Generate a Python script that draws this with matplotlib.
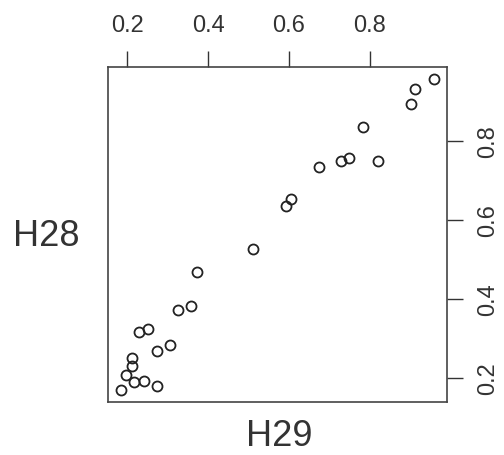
import matplotlib
matplotlib.use("Agg")
import matplotlib.pyplot as plt

plt.rcParams['font.family'] = ['Liberation Sans', 'DejaVu Sans']

# H29 vs H28 values for each observation
h29 = [0.960, 0.911, 0.901, 0.784, 0.749, 0.729, 0.820, 0.673, 0.606, 0.592,
       0.511, 0.373, 0.358, 0.325, 0.250, 0.229, 0.305, 0.273, 0.211, 0.211,
       0.196, 0.216, 0.241, 0.274, 0.183]
h28 = [0.957, 0.932, 0.895, 0.836, 0.759, 0.749, 0.749, 0.735, 0.653, 0.637,
       0.527, 0.469, 0.382, 0.372, 0.324, 0.318, 0.285, 0.270, 0.252, 0.232,
       0.208, 0.189, 0.194, 0.179, 0.171]

xticks = [0.2, 0.4, 0.6, 0.8]
yticks = [0.2, 0.4, 0.6, 0.8]

fig = plt.figure(figsize=(5.04, 4.55), dpi=100)
ax = fig.add_axes([108 / 504, 1 - 402 / 455, 339 / 504, 335 / 455])

ax.plot(h29, h28, linestyle='none', marker='o', markersize=7.2,
        markerfacecolor='none', markeredgecolor='#222222', markeredgewidth=1.3)

# pairs-style 4% padding around the data range
def padded(v):
    lo, hi = min(v), max(v)
    d = (hi - lo) * 0.04
    return lo - d, hi + d

ax.set_xlim(*padded(h29))
ax.set_ylim(*padded(h28))

ax.xaxis.tick_top()
ax.yaxis.tick_right()
ax.set_xticks(xticks)
ax.set_yticks(yticks)
ax.set_xticklabels(['%.1f' % t for t in xticks])
ax.set_yticklabels(['%.1f' % t for t in yticks], rotation=90, va='center')
ax.tick_params(direction='out', length=11.5, width=1.0, color='#333333',
               labelsize=17, labelcolor='#333333', pad=10)

for s in ax.spines.values():
    s.set_color('#444444')
    s.set_linewidth(1.2)

fig.text(46.7 / 504, 1 - 236 / 455, 'H28', fontsize=26, color='#333333',
         ha='center', va='center')
fig.text(279.5 / 504, 1 - 437 / 455, 'H29', fontsize=26, color='#333333',
         ha='center', va='center')

fig.savefig('out.png', dpi=100)
